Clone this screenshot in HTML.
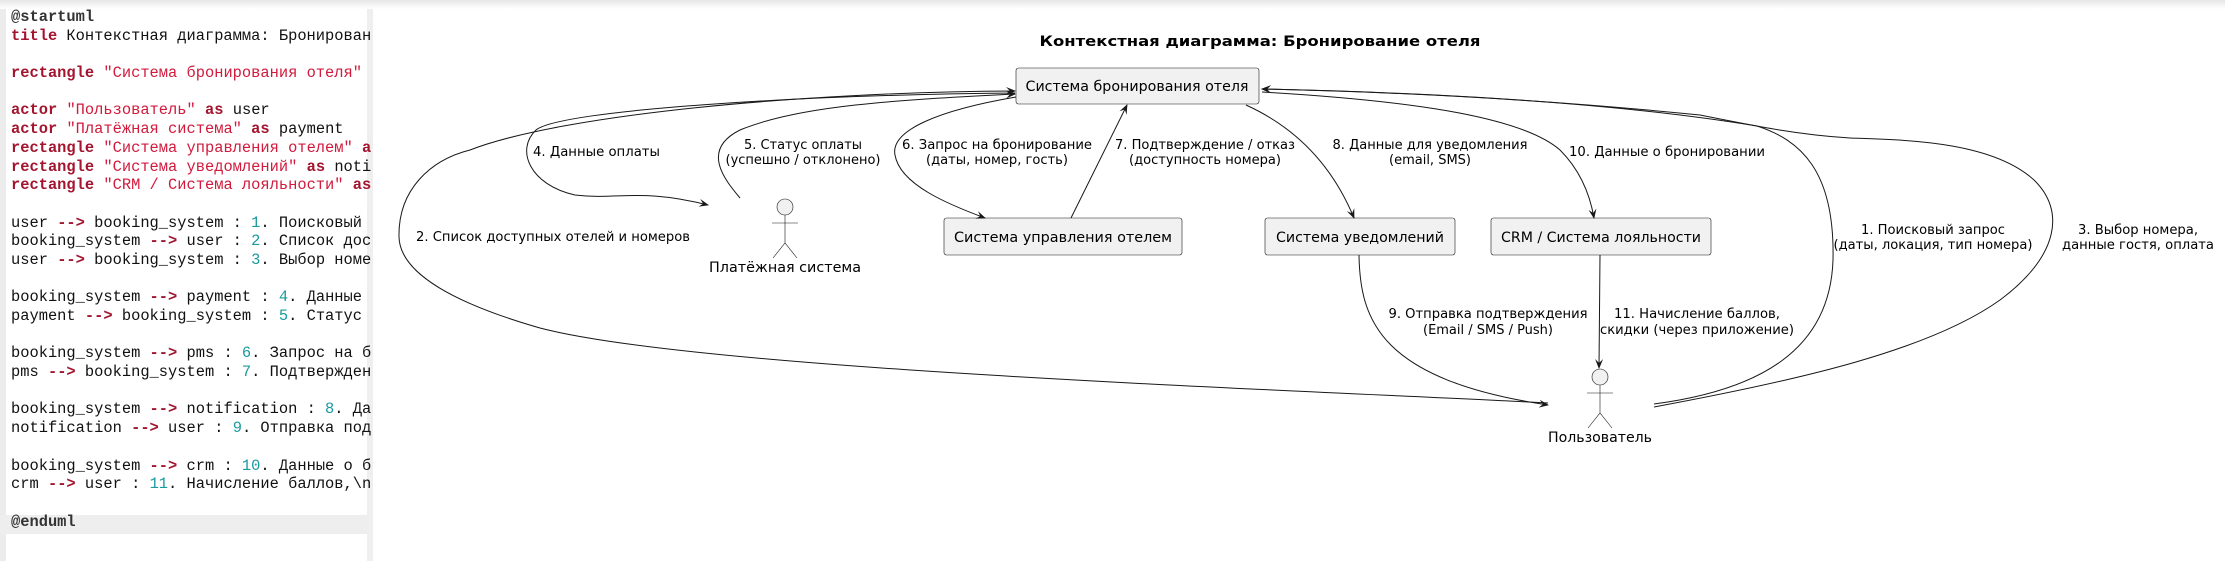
<!DOCTYPE html>
<html><head><meta charset="utf-8"><style>
html,body{margin:0;padding:0;background:#fff;width:2225px;height:561px;overflow:hidden}
#top{position:absolute;left:0;top:0;width:2225px;height:9px;background:linear-gradient(#e6e6e6,#fff)}
#code{position:absolute;left:0;top:9px;width:367px;height:552px;background:#fff;border-left:6px solid #ececec;box-sizing:border-box}
#sep{position:absolute;left:367px;top:9px;width:6px;height:552px;background:#efefef}
pre{position:absolute;left:11px;top:8px;margin:0;font:15.4px/18.68px "Liberation Mono","DejaVu Sans Mono",monospace;color:#111;white-space:pre}
.k{color:#a3152f;font-weight:bold}.s{color:#d11a3c}.n{color:#1a9a9e}.b{font-weight:bold;color:#333}
#hl{position:absolute;left:0;top:515px;width:367px;height:19px;background:#eee}
svg{position:absolute;left:0;top:0}
</style></head><body>
<div id="top"></div>
<div id="code"></div><div id="hl"></div><div id="sep"></div>
<pre><span class="b">@startuml</span>
<span class="k">title</span> Контекстная диаграмма: Бронирован

<span class="k">rectangle</span> <span class="s">"Система бронирования отеля"</span>

<span class="k">actor</span> <span class="s">"Пользователь"</span> <span class="k">as</span> user
<span class="k">actor</span> <span class="s">"Платёжная система"</span> <span class="k">as</span> payment
<span class="k">rectangle</span> <span class="s">"Система управления отелем"</span> <span class="k">a</span>
<span class="k">rectangle</span> <span class="s">"Система уведомлений"</span> <span class="k">as</span> noti
<span class="k">rectangle</span> <span class="s">"CRM / Система лояльности"</span> <span class="k">as</span>

user <span class="k">--&gt;</span> booking_system : <span class="n">1</span>. Поисковый
booking_system <span class="k">--&gt;</span> user : <span class="n">2</span>. Список дос
user <span class="k">--&gt;</span> booking_system : <span class="n">3</span>. Выбор номе

booking_system <span class="k">--&gt;</span> payment : <span class="n">4</span>. Данные
payment <span class="k">--&gt;</span> booking_system : <span class="n">5</span>. Статус

booking_system <span class="k">--&gt;</span> pms : <span class="n">6</span>. Запрос на б
pms <span class="k">--&gt;</span> booking_system : <span class="n">7</span>. Подтвержден

booking_system <span class="k">--&gt;</span> notification : <span class="n">8</span>. Да
notification <span class="k">--&gt;</span> user : <span class="n">9</span>. Отправка под

booking_system <span class="k">--&gt;</span> crm : <span class="n">10</span>. Данные о б
crm <span class="k">--&gt;</span> user : <span class="n">11</span>. Начисление баллов,\n

<span class="b">@enduml</span></pre>
<svg width="2225" height="561" xmlns="http://www.w3.org/2000/svg" font-family="'DejaVu Sans Condensed','Liberation Sans Narrow','Liberation Sans',sans-serif" font-size="13">
<defs><marker id="a" viewBox="0 0 10 8" refX="9" refY="4" markerWidth="10" markerHeight="8" markerUnits="userSpaceOnUse" orient="auto"><path d="M0,0 L10,4 L0,8 L4,4 Z" fill="#181818"/></marker></defs>
<text x="1260" y="46" text-anchor="middle" font-weight="bold" font-size="14" textLength="441" lengthAdjust="spacingAndGlyphs">Контекстная диаграмма: Бронирование отеля</text>
<g fill="#f1f1f1" stroke="#181818" stroke-width="0.6">
<rect x="1016" y="68" width="243" height="36" rx="2.5"/>
<rect x="944" y="218" width="238" height="37" rx="2.5"/>
<rect x="1265" y="218" width="190" height="37" rx="2.5"/>
<rect x="1491" y="218" width="220" height="37" rx="2.5"/>
</g>
<g font-size="14" text-anchor="middle">
<text x="1137" y="91" textLength="223" lengthAdjust="spacingAndGlyphs">Система бронирования отеля</text>
<text x="1063" y="242" textLength="218" lengthAdjust="spacingAndGlyphs">Система управления отелем</text>
<text x="1360" y="242" textLength="168" lengthAdjust="spacingAndGlyphs">Система уведомлений</text>
<text x="1601" y="242" textLength="200" lengthAdjust="spacingAndGlyphs">CRM / Система лояльности</text>
<text x="785" y="272" textLength="152" lengthAdjust="spacingAndGlyphs">Платёжная система</text>
<text x="1600" y="442" textLength="104" lengthAdjust="spacingAndGlyphs">Пользователь</text>
</g>
<g fill="#f1f1f1" stroke="#181818" stroke-width="0.6">
<circle cx="785" cy="207" r="8"/><path d="M785,215 V243 M772,223 H798 M773,258 L785,243 L797,258" fill="none"/>
<circle cx="1600" cy="377" r="8"/><path d="M1600,385 V413 M1587,393 H1613 M1588,428 L1600,413 L1612,428" fill="none"/>
</g>
<g fill="none" stroke="#181818" stroke-width="1">
<path d="M1548,403 C1300,390 700,370 540,328 C460,305 400,275 399,237 C398,190 430,160 470,150 C560,115 800,92 1015,91" marker-end="url(#a)"/>
<path d="M1015,93 C800,95 560,110 536,130 C515,150 530,185 575,195 C620,200 640,188 708,205" marker-end="url(#a)"/>
<path d="M740,198 C725,180 700,150 740,130 C800,105 900,100 1015,94" marker-end="url(#a)"/>
<path d="M1016,97 C940,110 890,130 895,155 C900,185 950,205 985,218" marker-end="url(#a)"/>
<path d="M1071,218 L1127,105" marker-end="url(#a)"/>
<path d="M1246,105 C1290,125 1330,160 1354,218" marker-end="url(#a)"/>
<path d="M1262,92 C1400,100 1520,115 1560,150 C1580,170 1590,195 1594,218" marker-end="url(#a)"/>
<path d="M1359,255 C1360,320 1380,380 1548,405" marker-end="url(#a)"/>
<path d="M1600,255 L1599,368" marker-end="url(#a)"/>
<path d="M1654,404 C1760,390 1830,350 1833,260 C1835,170 1800,140 1757,126 C1600,100 1400,92 1262,89" marker-end="url(#a)"/>
<path d="M1654,407 C1800,380 1930,350 2000,300 C2060,255 2065,210 2034,180 C1990,140 1900,140 1850,138 C1800,135 1760,127 1700,115 C1550,100 1400,92 1262,89" marker-end="url(#a)"/>
</g>
<g font-size="13" text-anchor="middle">
<text x="533" y="156" text-anchor="start" textLength="127" lengthAdjust="spacingAndGlyphs">4. Данные оплаты</text>
<text x="416" y="241" text-anchor="start" textLength="274" lengthAdjust="spacingAndGlyphs">2. Список доступных отелей и номеров</text>
<text x="803" y="149" textLength="118" lengthAdjust="spacingAndGlyphs">5. Статус оплаты</text><text x="803" y="164" textLength="155" lengthAdjust="spacingAndGlyphs">(успешно / отклонено)</text>
<text x="997" y="149" textLength="190" lengthAdjust="spacingAndGlyphs">6. Запрос на бронирование</text><text x="997" y="164" textLength="142" lengthAdjust="spacingAndGlyphs">(даты, номер, гость)</text>
<text x="1205" y="149" textLength="180" lengthAdjust="spacingAndGlyphs">7. Подтверждение / отказ</text><text x="1205" y="164" textLength="152" lengthAdjust="spacingAndGlyphs">(доступность номера)</text>
<text x="1430" y="149" textLength="195" lengthAdjust="spacingAndGlyphs">8. Данные для уведомления</text><text x="1430" y="164" textLength="82" lengthAdjust="spacingAndGlyphs">(email, SMS)</text>
<text x="1667" y="156" textLength="196" lengthAdjust="spacingAndGlyphs">10. Данные о бронировании</text>
<text x="1933" y="234" textLength="144" lengthAdjust="spacingAndGlyphs">1. Поисковый запрос</text><text x="1933" y="249" textLength="199" lengthAdjust="spacingAndGlyphs">(даты, локация, тип номера)</text>
<text x="2138" y="234" textLength="120" lengthAdjust="spacingAndGlyphs">3. Выбор номера,</text><text x="2138" y="249" textLength="152" lengthAdjust="spacingAndGlyphs">данные гостя, оплата</text>
<text x="1488" y="318" textLength="199" lengthAdjust="spacingAndGlyphs">9. Отправка подтверждения</text><text x="1488" y="334" textLength="130" lengthAdjust="spacingAndGlyphs">(Email / SMS / Push)</text>
<text x="1697" y="318" textLength="166" lengthAdjust="spacingAndGlyphs">11. Начисление баллов,</text><text x="1697" y="334" textLength="194" lengthAdjust="spacingAndGlyphs">скидки (через приложение)</text>
</g>
</svg>
</body></html>
